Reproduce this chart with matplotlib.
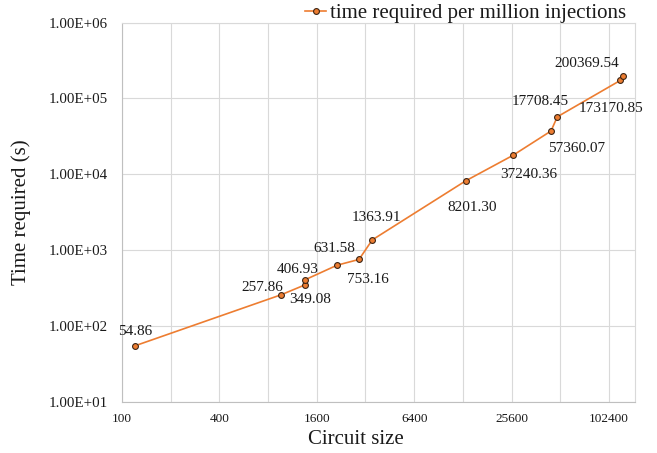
import numpy as np
import matplotlib.pyplot as plt
from matplotlib.ticker import FixedLocator, FuncFormatter, NullFormatter

# circuit size vs. time required per million injections
circuit_size = [121, 965, 1358, 1358, 2133, 2918, 3525, 13330, 26010, 44860, 49080, 120300, 124900]
time_required = [54.86, 257.86, 349.08, 406.93, 631.58, 753.16, 1363.91, 8201.30,
                 17708.45, 37240.36, 57360.07, 173170.85, 200369.54]
x_ticks = [100, 400, 1600, 6400, 25600, 102400]
y_ticks = [1e1, 1e2, 1e3, 1e4, 1e5, 1e6]

# where each data label sits relative to its point (pixels)
label_offsets = [(0, 14), (-19, 7), (5, -15), (-8, 10), (-3, 17), (9, -20), (4, 22),
                 (6, -27), (28, 54), (-22, -43), (19, -32), (-9, -28), (-36, 12)]

plt.rcParams['font.family'] = ['Liberation Serif', 'DejaVu Serif']

orange = '#ED7D31'

fig = plt.figure(figsize=(6.57, 4.53), dpi=100)
ax = fig.add_axes([122 / 657, 1 - 401.7 / 453, 513 / 657, 379 / 453])

ax.set_xscale('log', base=2)
ax.set_yscale('log')
ax.set_xlim(100, 148300)
ax.set_ylim(10, 1e6)

line, = ax.plot(circuit_size, time_required, color=orange, lw=1.2,
                marker='o', markersize=4.2, markerfacecolor=orange,
                markeredgecolor='#3b2414', markeredgewidth=0.8,
                label='time required per million injections', zorder=3)

for x, y, (dx, dy) in zip(circuit_size, time_required, label_offsets):
    ax.annotate(f'{y:.2f}', (x, y), xytext=(dx, dy), textcoords='offset pixels',
                ha='center', va='center', fontsize=11, color='#1a1a1a')

# gridlines at every factor of 2, labels at every factor of 4
grid_x = [100 * 2 ** k for k in range(11)]
ax.xaxis.set_major_locator(FixedLocator(x_ticks))
ax.xaxis.set_minor_locator(FixedLocator(grid_x))
ax.xaxis.set_major_formatter(FuncFormatter(lambda v, p: f'{v:.0f}'))
ax.xaxis.set_minor_formatter(NullFormatter())
ax.yaxis.set_major_locator(FixedLocator(y_ticks))
ax.yaxis.set_minor_locator(FixedLocator([]))
ax.yaxis.set_major_formatter(FuncFormatter(lambda v, p: f'{v:.2E}'))

ax.grid(True, which='both', axis='x', color='#D9D9D9', lw=0.8)
ax.grid(True, which='major', axis='y', color='#D9D9D9', lw=0.8)
ax.set_axisbelow(True)

ax.tick_params(axis='both', which='both', length=0)
ax.tick_params(axis='x', labelsize=9.5, pad=8, colors='#1a1a1a')
ax.tick_params(axis='y', labelsize=10.8, pad=10, colors='#1a1a1a')

for s in ['top', 'right']:
    ax.spines[s].set_color('#D9D9D9')
    ax.spines[s].set_linewidth(0.8)
for s in ['left', 'bottom']:
    ax.spines[s].set_color('#BFBFBF')
    ax.spines[s].set_linewidth(0.8)

ax.set_xlabel('Circuit size', fontsize=15, color='#1a1a1a')
ax.xaxis.set_label_coords((356 - 122) / 513, -0.075)
ax.set_ylabel('Time required (s)', fontsize=15, color='#1a1a1a')
ax.yaxis.set_label_coords(-0.178, 0.5)

fig.legend(handles=[line], loc='center', bbox_to_anchor=(466 / 657, 1 - 13 / 453),
           frameon=False, fontsize=15, handlelength=1.0, handletextpad=0.2,
           borderpad=0, labelcolor='#1a1a1a')

fig.savefig('out.png', dpi=100)
